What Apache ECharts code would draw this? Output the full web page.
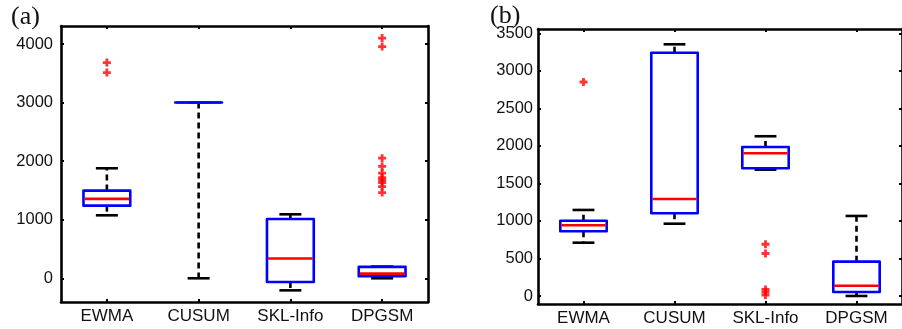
<!DOCTYPE html>
<html>
<head>
<meta charset="utf-8">
<script src="https://cdn.jsdelivr.net/npm/echarts@6/dist/echarts.min.js"></script>
<style>
html,body{margin:0;padding:0;background:#fff;}
#chart{width:902px;height:329px;}
</style>
</head>
<body>
<div id="chart"></div>
<script>
// ---- data ----
const categories = ['EWMA', 'CUSUM', 'SKL-Info', 'DPGSM'];
// [min, Q1, median, Q3, max]
const boxA = [
  [1075, 1240, 1355, 1497, 1878],
  [0, 3000, 3000, 3000, 3000],
  [-206, -63, 338, 1012, 1092],
  [0, 34, 80, 194, 200]
];
const outliersA = [
  [0, 3683], [0, 3511],
  [3, 4100], [3, 3955], [3, 2050], [3, 1909], [3, 1796], [3, 1720],
  [3, 1681], [3, 1635], [3, 1566], [3, 1463]
];
const boxB = [
  [710, 862, 942, 1003, 1146],
  [963, 1102, 1292, 3241, 3353],
  [1683, 1701, 1901, 1985, 2128],
  [0, 53, 137, 457, 1066]
];
const outliersB = [
  [0, 2851],
  [2, 689], [2, 566], [2, 87], [2, 53], [2, 13]
];
const ticksA = [0, 1000, 2000, 3000, 4000];
const ticksB = [0, 500, 1000, 1500, 2000, 2500, 3000, 3500];

// ---- rendering ----
const BLUE = '#0000ff', RED = '#ff0000', BLACK = '#000000';
const LW = 2.6;

function renderBox(params, api) {
  const idx = api.value(0);
  const vmin = api.value(1), q1 = api.value(2), med = api.value(3), q3 = api.value(4), vmax = api.value(5);
  const band = api.size([1, 0])[0];
  const bw = band * 0.51, cw = band * 0.24;
  const pMin = api.coord([idx, vmin]);
  const pQ1 = api.coord([idx, q1]);
  const pMed = api.coord([idx, med]);
  const pQ3 = api.coord([idx, q3]);
  const pMax = api.coord([idx, vmax]);
  const x = pMin[0];
  const children = [];
  const dashStyle = { stroke: BLACK, lineWidth: LW, lineDash: [6, 4], fill: null };
  if (pMin[1] - pQ1[1] > 0.5) {
    children.push({ type: 'line', shape: { x1: x, y1: pQ1[1], x2: x, y2: pMin[1] }, style: dashStyle });
  }
  if (pQ3[1] - pMax[1] > 0.5) {
    children.push({ type: 'line', shape: { x1: x, y1: pQ3[1], x2: x, y2: pMax[1] }, style: dashStyle });
  }
  const capStyle = { stroke: BLACK, lineWidth: LW, fill: null };
  children.push({ type: 'line', shape: { x1: x - cw / 2, y1: pMin[1], x2: x + cw / 2, y2: pMin[1] }, style: capStyle });
  children.push({ type: 'line', shape: { x1: x - cw / 2, y1: pMax[1], x2: x + cw / 2, y2: pMax[1] }, style: capStyle });
  const medEl = { type: 'line', shape: { x1: x - bw / 2 + 1, y1: pMed[1], x2: x + bw / 2 - 1, y2: pMed[1] }, style: { stroke: RED, lineWidth: LW, fill: null } };
  const boxEl = {
    type: 'polygon',
    shape: { points: [[x - bw / 2, pQ3[1]], [x + bw / 2, pQ3[1]], [x + bw / 2, pQ1[1]], [x - bw / 2, pQ1[1]]] },
    style: { stroke: BLUE, lineWidth: LW, fill: null, lineJoin: 'round' }
  };
  if (q3 > q1) { children.push(boxEl, medEl); } else { children.push(medEl, boxEl); }
  return { type: 'group', children: children };
}

const plusSymbol = 'path://M2.6,0H5.4V2.6H8V5.4H5.4V8H2.6V5.4H0V2.6H2.6Z';

function xAxes(gridIndex) {
  const common = {
    type: 'category', data: categories, gridIndex: gridIndex, boundaryGap: true,
    axisLine: { show: true, onZero: false, lineStyle: { color: BLACK, width: LW } },
    axisTick: { show: true, inside: true, alignWithLabel: true, length: 3, lineStyle: { color: BLACK, width: 2 } },
    splitLine: { show: false }
  };
  return [
    Object.assign({}, common, {
      position: 'bottom',
      axisLabel: { show: true, fontSize: 17, fontFamily: 'Liberation Sans, Arial, sans-serif', color: '#111', margin: 6 }
    }),
    Object.assign({}, common, { position: 'top', axisLabel: { show: false } })
  ];
}

function yAxes(gridIndex, min, max, ticks, margin) {
  const common = {
    type: 'value', gridIndex: gridIndex, min: min, max: max,
    axisLine: { show: true, onZero: false, lineStyle: { color: BLACK, width: LW } },
    axisTick: { show: true, inside: true, length: 3, customValues: ticks, lineStyle: { color: BLACK, width: 2 } },
    splitLine: { show: false }
  };
  return [
    Object.assign({}, common, {
      position: 'left',
      axisLabel: {
        show: true, customValues: ticks, fontSize: 16.5, fontFamily: 'Liberation Sans, Arial, sans-serif',
        color: '#111', margin: margin, formatter: function (v) { return String(v); }
      }
    }),
    Object.assign({}, common, { position: 'right', axisLabel: { show: false } })
  ];
}

const chart = echarts.init(document.getElementById('chart'), null, { renderer: 'canvas' });
const option = {
  animation: false,
  backgroundColor: '#ffffff',
  grid: [
    { left: 61, top: 26, width: 367, height: 276 },
    { left: 538, top: 29, width: 368, height: 275 }
  ],
  xAxis: [].concat(xAxes(0), xAxes(1)),
  yAxis: [].concat(yAxes(0, -405, 4307, ticksA, 8), yAxes(1, -107, 3557, ticksB, 5)),
  series: [
    {
      type: 'custom', xAxisIndex: 0, yAxisIndex: 0, renderItem: renderBox,
      data: boxA.map((b, i) => [i].concat(b)), encode: { x: 0, y: [1, 2, 3, 4, 5] }, z: 2
    },
    {
      type: 'scatter', xAxisIndex: 0, yAxisIndex: 0, data: outliersA,
      symbol: plusSymbol, symbolSize: 8, itemStyle: { color: RED }, z: 3
    },
    {
      type: 'custom', xAxisIndex: 2, yAxisIndex: 2, renderItem: renderBox,
      data: boxB.map((b, i) => [i].concat(b)), encode: { x: 0, y: [1, 2, 3, 4, 5] }, z: 2
    },
    {
      type: 'scatter', xAxisIndex: 2, yAxisIndex: 2, data: outliersB,
      symbol: plusSymbol, symbolSize: 8, itemStyle: { color: RED }, z: 3
    }
  ],
  graphic: [
    { type: 'text', left: 11, top: 4, z: 100, style: { text: '(a)', font: '26px "Liberation Serif", "Times New Roman", serif', fill: '#111' } },
    { type: 'text', left: 490, top: 3, z: 100, style: { text: '(b)', font: '26px "Liberation Serif", "Times New Roman", serif', fill: '#111' } }
  ]
};
chart.setOption(option);
</script>
</body>
</html>
